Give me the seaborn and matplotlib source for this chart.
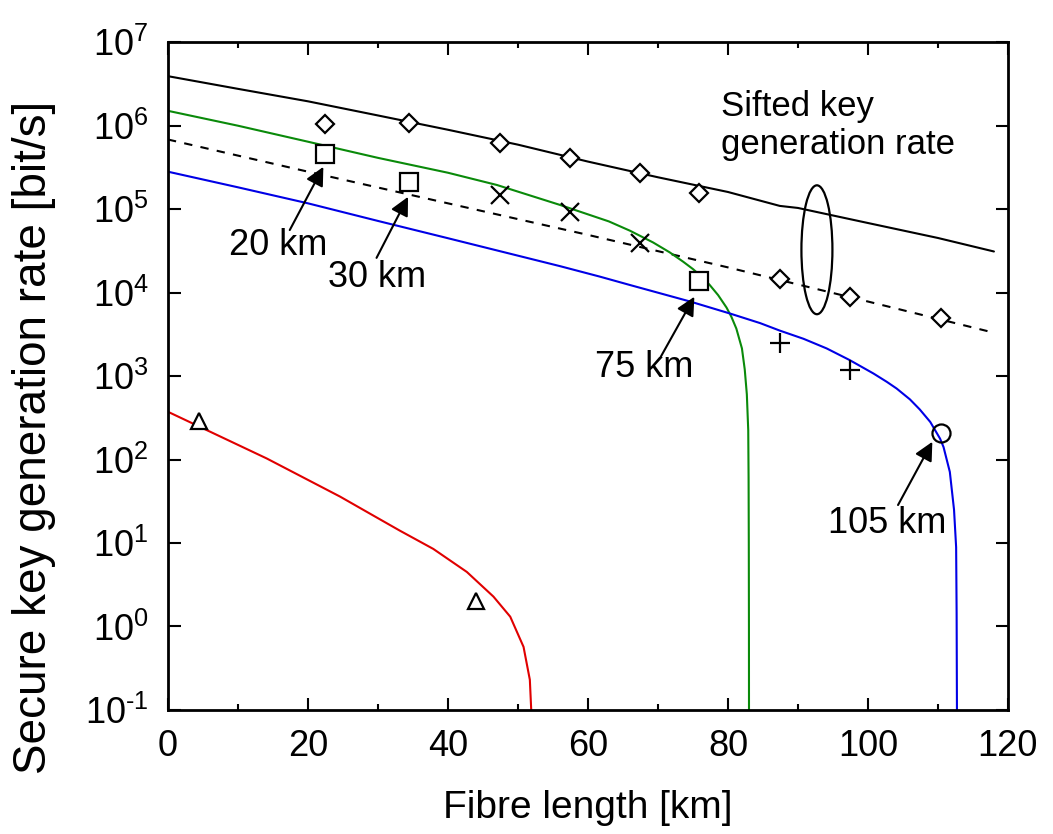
import numpy as np
import pandas as pd
import matplotlib
matplotlib.use("Agg")
import matplotlib.pyplot as plt
import seaborn as sns
from matplotlib.patches import Ellipse
from matplotlib.ticker import LogLocator, NullLocator, MultipleLocator, FuncFormatter

# --- curves (fibre length [km], rate [bit/s]) ---
sifted_x = [0, 10, 20, 30, 40, 50, 60, 70, 80, 87.4, 90, 100, 110, 118]
sifted_y = [3.9e6, 2.75e6, 1.95e6, 1.32e6, 8.9e5, 5.9e5, 3.7e5, 2.4e5,
            1.6e5, 1.09e5, 1.03e5, 6.8e4, 4.5e4, 3.1e4]

sifted2_x = [0, 20, 40, 60, 80, 100, 118]
sifted2_y = [6.8e5, 2.8e5, 1.17e5, 4.9e4, 2.0e4, 7.8e3, 3.3e3]

green_x = [0, 10, 20, 30, 40, 47, 56, 63, 66, 69.3, 71.7, 73.6, 75, 76.5,
           77.4, 78.6, 79.8, 80.5, 81.2, 82.0, 82.4, 82.7, 82.9, 82.95,
           82.98, 83.0, 83.01]
green_y = [1.5e6, 9.95e5, 6.4e5, 4.1e5, 2.72e5, 1.94e5, 1.12e5, 7.1e4, 5.5e4,
           3.98e4, 3.02e4, 2.34e4, 1.91e4, 1.48e4, 1.23e4, 9.3e3, 6.6e3, 5.1e3,
           3.7e3, 2.14e3, 1.2e3, 603, 224, 60, 10, 1.0, 0.06]

blue_x = [0, 10, 20, 30, 40, 56, 61.7, 66, 74.6, 80.3, 84.6, 87.4, 90.8, 94.1,
          97.4, 100.8, 102.7, 104.1, 106.0, 107.4, 108.9, 110.3, 110.8, 111.7,
          112.3, 112.6, 112.67, 112.72]
blue_y = [2.8e5, 1.82e5, 1.17e5, 7.2e4, 4.47e4, 2.07e4, 1.55e4, 1.23e4, 7.8e3,
          5.6e3, 4.3e3, 3.5e3, 2.79e3, 2.14e3, 1.55e3, 1.07e3, 851, 708, 525,
          398, 282, 178, 141, 71, 25, 8.9, 1.44, 0.08]

red_x = [0, 14.1, 24.6, 29.3, 33.1, 37.9, 42.7, 46.5, 48.9, 50.8, 51.7, 51.95]
red_y = [373, 103, 35.9, 21.4, 14.1, 8.5, 4.5, 2.28, 1.31, 0.57, 0.23, 0.08]

# --- measured points ---
diamond_x = [22.4, 34.5, 47.4, 57.4, 67.4, 75.9, 87.4, 97.4, 110.4]
diamond_y = [1.03e6, 1.06e6, 6.1e5, 4.1e5, 2.7e5, 1.57e5, 1.44e4, 8.9e3, 5.0e3]
square_x = [22.5, 34.5, 75.9]
square_y = [4.6e5, 2.1e5, 1.39e4]
cross_x = [47.4, 57.5, 67.4]
cross_y = [1.47e5, 9.3e4, 3.9e4]
plus_x = [87.4, 97.4]
plus_y = [2.5e3, 1.18e3]
circle_x = [110.4]
circle_y = [206]
tri_x = [4.5, 44.0]
tri_y = [291, 2.04]

# annotation labels: (text, text x, text y, arrow tail, arrow head)
labels = ["20 km", "30 km", "75 km", "105 km"]
label_pos = [(15.7, 3.7e4), (29.9, 1.5e4), (68.1, 1.25e3), (102.7, 16.9)]
arrow_tail = [(17.4, 5.6e4), (29.8, 2.6e4), (70.3, 1.64e3), (104.3, 28.5)]
arrow_head = [(22.2, 3.2e5), (34.3, 1.4e5), (75.2, 8.9e3), (109.2, 163)]

sns.set_style("ticks")
plt.rcParams["font.family"] = ["Liberation Sans", "DejaVu Sans"]
plt.rcParams["mathtext.fontset"] = "custom"
plt.rcParams["mathtext.rm"] = "Liberation Sans"
plt.rcParams["mathtext.default"] = "regular"
for key in ["text.color", "axes.labelcolor", "xtick.color", "ytick.color",
            "axes.edgecolor"]:
    plt.rcParams[key] = "black"

fig = plt.figure(figsize=(10.53, 8.34), dpi=100)
ax = fig.add_axes([0.1595, 0.1487, 0.7977, 0.8009])

curves = [
    (sifted_x, sifted_y, "black", "-"),
    (sifted2_x, sifted2_y, "black", (0, (4, 4))),
    (green_x, green_y, "#0a8a0a", "-"),
    (blue_x, blue_y, "#0000e6", "-"),
    (red_x, red_y, "#e00000", "-"),
]
for xs, ys, col, ls in curves:
    df = pd.DataFrame({"x": xs, "y": ys})
    sns.lineplot(data=df, x="x", y="y", ax=ax, color=col, linestyle=ls,
                 linewidth=1.5, estimator=None, sort=False)

mk = dict(linestyle="none", color="black", markerfacecolor="white",
          markeredgewidth=1.6, zorder=5)
ax.plot(diamond_x, diamond_y, marker="D", markersize=9.5, **mk)
ax.plot(square_x, square_y, marker="s", markersize=13, **mk)
ax.plot(cross_x, cross_y, marker="x", markersize=13, **mk)
ax.plot(plus_x, plus_y, marker="+", markersize=14, **mk)
ax.plot(circle_x, circle_y, marker="o", markersize=13, markerfacecolor="none",
        linestyle="none", color="black", markeredgewidth=1.6, zorder=5)
ax.plot(tri_x, tri_y, marker="^", markersize=12, **mk)

for txt, pos, tail, head in zip(labels, label_pos, arrow_tail, arrow_head):
    ax.text(pos[0], pos[1], txt, ha="center", va="center", fontsize=26)
    ax.annotate("", xy=head, xytext=tail,
                arrowprops=dict(arrowstyle="-|>", color="black", lw=1.5,
                                mutation_scale=28, shrinkA=0, shrinkB=0))

ax.text(79.0, 9.9e5, "Sifted key\ngeneration rate", ha="left", va="center",
        fontsize=25, linespacing=1.2)
ax.add_patch(Ellipse((0.7726, 0.689), 0.0369, 0.193, transform=ax.transAxes,
                     fill=False, edgecolor="black", lw=1.6))

ax.set_yscale("log")
ax.set_xlim(0, 120)
ax.set_ylim(1e-1, 1e7)
ax.xaxis.set_major_locator(MultipleLocator(20))
ax.xaxis.set_minor_locator(MultipleLocator(10))
ax.yaxis.set_major_locator(LogLocator(base=10, numticks=20))
ax.yaxis.set_minor_locator(NullLocator())
ax.yaxis.set_major_formatter(FuncFormatter(
    lambda v, p: "$10^{%s}$" % str(int(round(np.log10(v)))).replace("-", "\u2010")))

ax.tick_params(which="both", direction="in", top=True, right=True,
               width=1.5, labelsize=26, pad=14)
ax.tick_params(which="major", length=9)
ax.tick_params(which="minor", length=4.5)
for sp in ax.spines.values():
    sp.set_linewidth(2)
    sp.set_visible(True)

ax.set_xlabel("Fibre length [km]", fontsize=28, va="center")
ax.set_ylabel("Secure key generation rate [bit/s]", fontsize=33, va="center")
ax.xaxis.set_label_coords(0.5, -0.147)
ax.yaxis.set_label_coords(-0.16, 0.408)

fig.savefig("out.png", dpi=100)
